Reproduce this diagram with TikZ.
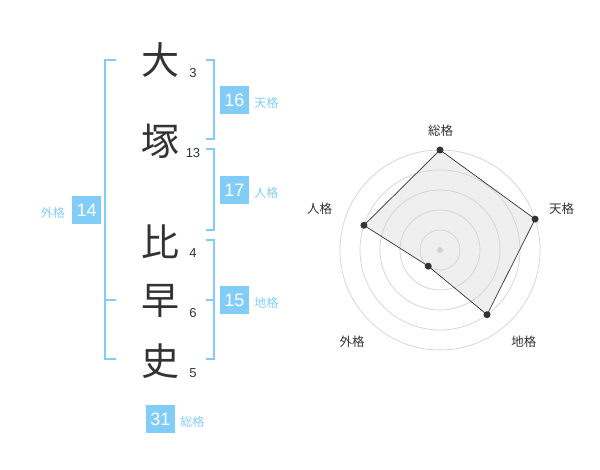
\documentclass[tikz,border=0pt]{standalone}
\usepackage{fontspec}
\setmainfont{Liberation Sans}
\newfontfamily\jpfont{Noto Sans CJK JP}
\usepackage{xcolor}
\usetikzlibrary{positioning, calc}
\definecolor{kakublue}{RGB}{130,205,248}
\definecolor{inkgray}{RGB}{51,51,51}
\definecolor{ringgray}{RGB}{210,210,210}
\definecolor{radarfill}{RGB}{239,239,239}
\tikzset{
	kanji/.style={font=\jpfont\fontsize{38}{38}\selectfont, text=inkgray, inner sep=0pt},
	strokes/.style={font=\fontsize{13}{13}\selectfont, text=inkgray, inner sep=0pt},
	kakubox/.style={fill=kakublue, text=white, minimum width=29pt, minimum height=28pt, inner sep=0pt, font=\fontsize{18}{18}\selectfont},
	kakulabel/.style={text=kakublue, font=\jpfont\fontsize{12}{12}\selectfont, inner sep=0pt},
	bracket/.style={draw=kakublue, line width=2pt},
	ring/.style={draw=ringgray, line width=0.7pt},
	radarlabel/.style={text=inkgray, font=\jpfont\fontsize{12.5}{12.5}\selectfont, inner sep=0pt},
	dot/.style={circle, fill=inkgray, inner sep=0pt, minimum size=7pt}
}
\begin{document}
\begin{tikzpicture}[x=1pt, y=-1pt]
				\useasboundingbox (0,0) rectangle (600,470);
				
				\node[kanji] (k1) at (160,60) {大};
				\node[kanji] (k2) at (160,141) {塚};
				\node[kanji] (k3) at (160,242) {比};
				\node[kanji] (k4) at (160,301) {早};
				\node[kanji] (k5) at (160,361) {史};
				
				\node[strokes] (s1) at (193,72.7) {3};
				\node[strokes] (s2) at (193,152.7) {13};
				\node[strokes] (s3) at (193,252.7) {4};
				\node[strokes] (s4) at (193,313) {6};
				\node[strokes] (s5) at (193,372.7) {5};
				
				\coordinate (GT) at (115.7,60);
				\coordinate (GB) at (115.7,359.3);
				\coordinate (GM) at (115.7,300);
				\draw[bracket] (GT) -| (105,359.3) -- (GB);
				\draw[bracket] (105,300) -- (GM);
				
				\draw[bracket] (205.7,60) -| (214.3,139.3) -- (205.7,139.3);
				\draw[bracket] (205.7,149.3) -| (214.3,230) -- (205.7,230);
				\draw[bracket] (205.7,240) -| (214.3,359.3) -- (205.7,359.3);
				\draw[bracket] (205.7,300) -- (214.3,300);
				
				\node[kakubox] (ten) at (234.5,100.2) {16};
				\node[kakubox] (jin) at (234.5,190.2) {17};
				\node[kakubox] (chi) at (234.5,300.2) {15};
				\node[kakubox] (gai) at (86.7,210.2) {14};
				\node[kakubox] (sou) at (160.5,419.2) {31};
				
				\node[kakulabel, base right=5pt of ten, yshift=-1.5pt] (tenL) {天格};
				\node[kakulabel, base right=5pt of jin, yshift=-1.5pt] (jinL) {人格};
				\node[kakulabel, base right=5pt of chi, yshift=-1.5pt] (chiL) {地格};
				\node[kakulabel, base left=7pt of gai, yshift=-1.5pt] (gaiL) {外格};
				\node[kakulabel, base right=5pt of sou, yshift=-1.5pt] (souL) {総格};
				
				\coordinate (C) at (440,250);
				\coordinate (P1) at ($(C)+(-90:100)$);
				\coordinate (P2) at ($(C)+(-18:100)$);
				\coordinate (P3) at ($(C)+(54:80)$);
				\coordinate (P4) at ($(C)+(126:20)$);
				\coordinate (P5) at ($(C)+(-162:80)$);
				
				\fill[radarfill] (P1) -- (P2) -- (P3) -- (P4) -- (P5) -- cycle;
				\foreach \r in {20,40,...,100}
					\draw[ring] (C) circle (\r pt);
				\fill[ringgray] (C) circle (3pt);
				\draw[inkgray, line width=0.7pt] (P1) -- (P2) -- (P3) -- (P4) -- (P5) -- cycle;
				\foreach \p in {P1,P2,P3,P4,P5}
					\node[dot] at (\p) {};
				
				\node[radarlabel] (rsou) at (440.7,130.5) {総格};
				\node[radarlabel] (rten) at (561.7,208.8) {天格};
				\node[radarlabel] (rchi) at (523.8,342.2) {地格};
				\node[radarlabel] (rgai) at (352,342.2) {外格};
				\node[radarlabel] (rjin) at (319.5,208.8) {人格};
			\end{tikzpicture}
\end{document}
